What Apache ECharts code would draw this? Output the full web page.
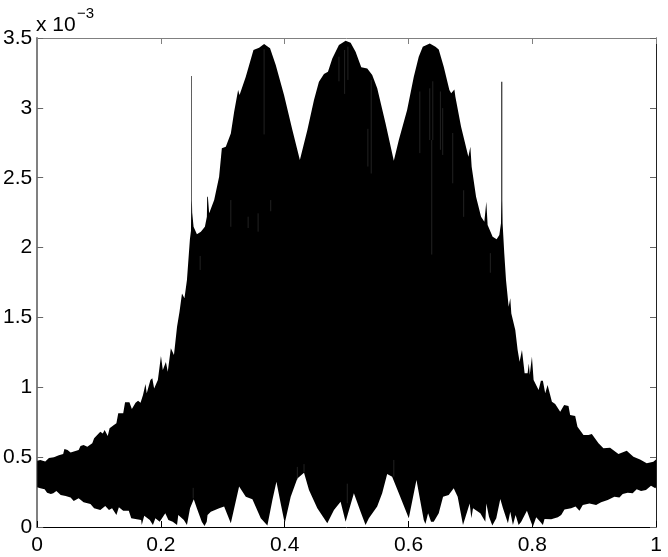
<!DOCTYPE html>
<html><head><meta charset="utf-8">
<style>html,body{margin:0;padding:0;background:#fff}#c{width:668px;height:557px}</style>
<script src="https://cdn.jsdelivr.net/npm/echarts@6/dist/echarts.min.js"></script>
</head><body><div id="c"></div>
<script>
// Values in units of 1e-3.
var xTicks = [0, 0.2, 0.4, 0.6, 0.8, 1];
var yTicks = [0, 0.5, 1, 1.5, 2, 2.5, 3, 3.5];
var upperEnvelope = [
[0,.475],[.005,.480],[.013,.468],[.019,.494],[.027,.499],[.035,.513],[.042,.522],[.044,.558],[.049,.551],[.054,.534],
[.067,.551],[.070,.580],[.075,.587],[.081,.575],[.089,.599],[.092,.635],[.102,.682],[.106,.670],[.109,.694],[.114,.651],
[.117,.706],[.124,.730],[.128,.742],[.131,.814],[.139,.814],[.142,.892],[.149,.892],[.153,.845],[.159,.890],[.163,.904],
[.167,.890],[.171,.945],[.175,1.023],[.177,.957],[.183,1.052],[.186,1.064],[.189,.992],[.195,1.052],[.200,1.224],[.203,1.124],
[.208,1.181],[.211,1.112],[.216,1.279],[.221,1.231],[.226,1.434],[.230,1.541],[.234,1.672],[.238,1.637],[.242,1.768],[.245,1.95],
[.2468,2.06],[.2485,2.12],[.2490,2.34],[.2490,3.228],[.2500,3.228],[.2500,2.34],[.2505,2.25],[.2527,2.149],[.2581,2.095],[.2645,2.114],[.271,2.149],
[.2742,2.221],[.2747,2.364],[.2758,2.364],[.2779,2.245],[.286,2.340],[.294,2.507],[.2984,2.710],[.3048,2.722],[.3129,2.817],[.3183,2.972],
[.3247,3.128],[.327,3.092],[.3371,3.223],[.3495,3.414],[.3586,3.43],[.3667,3.457],[.3763,3.426],[.3855,3.306],[.3989,3.092],[.4124,2.841],
[.4245,2.627],[.4366,2.841],[.4473,3.056],[.4553,3.187],[.4634,3.242],[.4699,3.259],[.4769,3.354],[.4876,3.450],[.4984,3.480],[.5065,3.466],
[.5145,3.402],[.5237,3.290],[.5334,3.282],[.5414,3.235],[.5495,3.140],[.5629,2.889],[.5763,2.622],[.5844,2.770],[.5978,2.984],[.6086,3.223],
[.6166,3.366],[.6231,3.437],[.6344,3.461],[.6436,3.437],[.6489,3.418],[.657,3.294],[.6661,3.128],[.669,3.104],[.6742,3.132],[.6758,3.080],
[.685,2.865],[.6968,2.65],[.7,2.722],[.7021,2.579],[.7092,2.364],[.7173,2.221],[.7226,2.185],[.7258,2.328],[.7279,2.161],[.736,2.078],
[.7425,2.059],[.7468,2.09],[.7495,2.174],[.7500,2.34],[.7500,3.187],[.7516,3.187],[.7516,2.34],[.7521,2.174],[.7548,1.959],[.7576,1.768],[.7619,1.577],
[.7645,1.637],[.7662,1.529],[.7726,1.41],[.7764,1.267],[.7796,1.183],[.7834,1.267],[.7877,1.100],[.7925,1.100],[.7945,1.17],[.796,1.09],
[.7995,1.219],[.8022,1.052],[.8103,.980],[.814,1.047],[.8172,1.047],[.821,.957],[.8248,1.016],[.8318,.897],[.8371,.880],[.8452,.825],
[.8516,.873],[.8586,.866],[.8613,.802],[.8694,.795],[.8731,.718],[.8828,.659],[.8909,.659],[.8963,.666],[.9071,.599],[.9151,.563],
[.9258,.568],[.9393,.522],[.9527,.546],[.9635,.503],[.9742,.484],[.985,.456],[.9957,.467],[1,.484]
];
var lowerEnvelope = [
[0,.284],[.005,.277],[.012,.270],[.016,.246],[.022,.236],[.026,.241],[.031,.258],[.038,.229],[.046,.222],[.054,.212],
[.059,.186],[.067,.205],[.075,.177],[.086,.165],[.092,.134],[.102,.122],[.110,.150],[.116,.122],[.121,.134],[.128,.086],
[.132,.141],[.139,.117],[.148,.117],[.152,.062],[.161,.055],[.168,.050],[.169,.014],[.173,.081],[.182,.050],[.187,.014],
[.191,.062],[.198,.038],[.207,.098],[.212,.050],[.219,.038],[.226,.014],[.228,.086],[.237,.050],[.242,.014],[.247,.134],
[.253,.198],[.258,.134],[.266,.038],[.2704,.007],[.274,.038],[.2753,.086],
[.2806,.110],[.2941,.134],[.3021,.146],[.3129,.026],[.3263,.289],[.3371,.217],[.3478,.198],[.3613,.062],[.372,.010],[.3801,.193],
[.3866,.324],[.3935,.169],[.4,.026],[.4097,.217],[.4204,.348],[.4312,.389],[.4392,.265],[.4527,.134],[.4688,.026],[.4796,.122],
[.4903,.181],[.4984,.038],[.5118,.241],[.5226,.110],[.5306,.014],[.5360,.062],[.5494,.146],[.5575,.241],[.5656,.379],[.5736,.360],
[.5844,.241],[.6005,.062],[.6129,.336],[.6247,.050],[.6274,.021],[.6317,.098],[.6365,.038],[.6408,.038],[.6489,.098],[.6559,.217],
[.6650,.229],[.6731,.277],[.6795,.217],[.6881,.014],[.6989,.169],[.7016,.062],[.7043,.134],[.7161,.098],[.7242,.038],
[.7258,.169],[.7301,.074],[.7355,.010],[.7419,.062],[.7484,.200],[.7527,.134],[.7607,.026],[.7645,.110],[.7688,.014],[.7731,.086],
[.778,.014],[.7822,.038],[.7914,.117],[.7968,.050],[.801,.002],[.8064,.069],[.8129,.038],[.8172,.014],[.8199,.057],[.8306,.055],
[.8414,.069],[.8468,.086],[.8521,.126],[.8629,.134],[.87,.146],[.8763,.117],[.8817,.158],[.8925,.169],[.9032,.158],[.9113,.177],
[.922,.193],[.9328,.217],[.9409,.212],[.9462,.236],[.9543,.246],[.9623,.241],[.9688,.270],[.9758,.258],[.9838,.265],[.9919,.296],
[.9989,.277],[1,.284]
];
// Thin pale streaks in the dense region: [x, top, bottom]
var streaks = [
[.3129,2.34,2.149],[.3409,2.221,2.14],[.357,2.245,2.114],[.3774,2.34,2.26],[.3667,3.42,2.81],[.2634,1.94,1.84],
[.4876,3.366,3.19],[.4968,3.414,3.10],[.5021,3.438,3.2],[.5398,3.2,2.53],[.5344,2.85,2.58],[.6183,3.117,2.676],
[.6344,3.14,2.77],[.6393,3.19,2.77],[.6516,3.117,2.70],[.6553,2.998,2.663],[.6715,2.82,2.46],[.6892,2.41,2.22],
[.6376,2.77,1.95],[.7323,1.96,1.82],[.2521,.28,.205],[.4204,.43,.34],[.4312,.45,.39],[.5763,.48,.36],[.5011,.31,.17]
];
var labelFont = 'Liberation Sans';
var polygonPoints = upperEnvelope.concat(lowerEnvelope.slice().reverse());

var chart = echarts.init(document.getElementById('c'), null, {renderer:'canvas'});
function frameX(pos, show, color){
  return {type:'value', position:pos, min:0, max:1, interval:0.2,
    axisLine:{show:true, onZero:false, lineStyle:{color:color, width:1}},
    axisTick:{show:true, inside:true, length:6, lineStyle:{color:color, width:1}},
    axisLabel:{show:show, color:'#000', fontFamily:labelFont, fontSize:21, margin:8},
    splitLine:{show:false}};
}
function frameY(pos, show, color, w){
  return {type:'value', position:pos, min:0, max:3.5, interval:0.5,
    axisLine:{show:true, onZero:false, lineStyle:{color:color, width:w}},
    axisTick:{show:true, inside:true, length:6, lineStyle:{color:'#666', width:1}},
    axisLabel:{show:show, color:'#000', fontFamily:labelFont, fontSize:21, margin:5, padding:[3,0,0,0]},
    splitLine:{show:false}};
}
chart.setOption({
  animation:false,
  backgroundColor:'#fff',
  grid:{left:36, right:12, top:38, bottom:30, containLabel:false},
  xAxis:[frameX('bottom', true, '#000'), frameX('top', false, '#808080')],
  yAxis:[frameY('left', true, '#808080', 2), frameY('right', false, '#222', 1)],
  graphic:[
    {type:'text', left:36, top:15, style:{text:'x 10', fontFamily:labelFont, fontSize:21, fill:'#000'}},
    {type:'text', left:77, top:6, style:{text:'\u22123', fontFamily:labelFont, fontSize:15, fill:'#000'}}
  ],
  series:[
    {type:'custom', coordinateSystem:'cartesian2d', silent:true, z:2,
     data:polygonPoints,
     renderItem:function(params, api){
       if(params.dataIndex!==0) return null;
       return {type:'polygon', shape:{points:polygonPoints.map(function(p){return api.coord(p);})},
               style:{fill:'#000', stroke:null}};
     }},
    {type:'custom', coordinateSystem:'cartesian2d', silent:true, z:3,
     data:streaks, encode:{x:0,y:[1,2]},
     renderItem:function(params, api){
       var a=api.coord([api.value(0),api.value(1)]), b=api.coord([api.value(0),api.value(2)]);
       return {type:'line', shape:{x1:a[0],y1:a[1],x2:b[0],y2:b[1]},
               style:{stroke:'#444', lineWidth:0.5}};
     }}
  ]
});
</script></body></html>
